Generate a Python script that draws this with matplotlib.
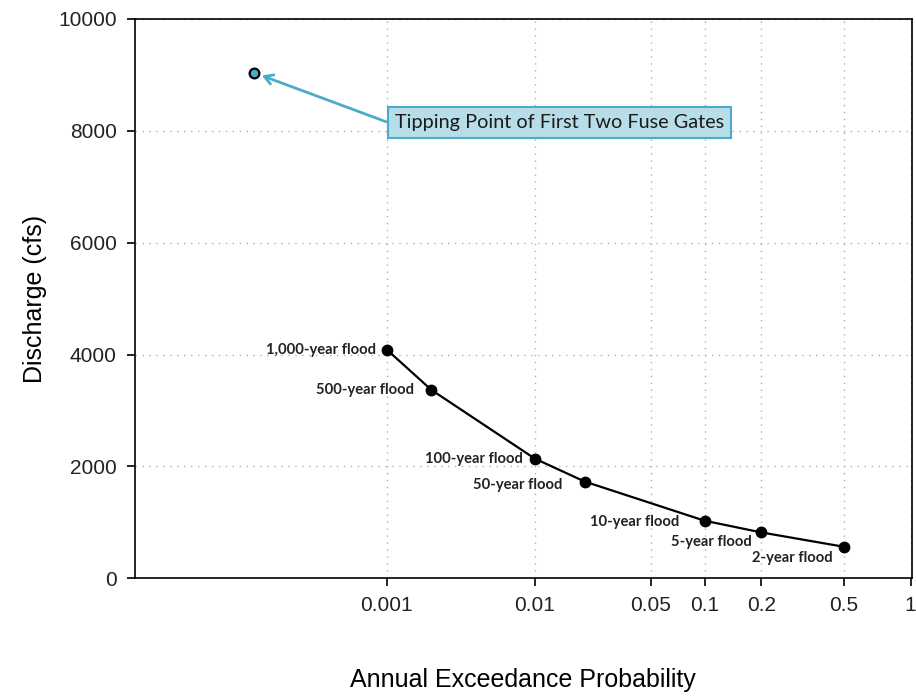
"""flood frequency curve with the fuse gate tipping point"""
import numpy as np
import matplotlib
matplotlib.use("Agg")
import matplotlib.pyplot as plt

# flood frequency data (annual exceedance probability vs discharge)
flood_labels = ["1,000-year flood", "500-year flood", "100-year flood", "50-year flood",
                "10-year flood", "5-year flood", "2-year flood"]
flood_prob = [0.001, 0.002, 0.01, 0.02, 0.1, 0.2, 0.5]
flood_q = [4090, 3370, 2140, 1730, 1030, 820, 565]

tip_prob = 0.000127
tip_q = 9040
tip_text = "Tipping Point of First Two Fuse Gates"

xtick_vals = [0.001, 0.01, 0.05, 0.1, 0.2, 0.5, 1]
xtick_labels = ["0.001", "0.01", "0.05", "0.1", "0.2", "0.5", "1"]
ytick_vals = [0, 2000, 4000, 6000, 8000, 10000]

# the probability axis is stretched unevenly, so map log10(p) onto axis units
scale_logs = [-6, -3, -2, np.log10(0.05), -1, np.log10(0.2), np.log10(0.5), 0, 0.3]
scale_pos = [-57.6, 386.7, 534.8, 650.6, 704.5, 761.4, 843.5, 910.5, 977.1]


def fwd(p):
    lp = np.log10(np.clip(p, 1e-12, None))
    return np.interp(lp, scale_logs, scale_pos)


def inv(u):
    return 10 ** np.interp(u, scale_pos, scale_logs)


# label offsets in pixels relative to each point
label_dx = [-11, -17, -12, -22, -25, -10, -11]
label_dy = [0, 0, 0, -3, -1, -10, -11]

plt.rcParams["font.family"] = ["Liberation Sans", "DejaVu Sans"]

fig = plt.figure(figsize=(9.16, 6.97), dpi=100)
ax = fig.add_axes([134.7 / 916, (697 - 578.3) / 697, (911.7 - 134.7) / 916, (578.3 - 19) / 697])

ax.set_xscale("function", functions=(fwd, inv))
ax.set_xlim(inv(134.7), inv(911.7))
ax.set_ylim(0, 10000)

ax.set_xticks(xtick_vals)
ax.set_xticklabels(xtick_labels)
ax.set_yticks(ytick_vals)
ax.minorticks_off()
ax.tick_params(axis="both", direction="out", length=6, width=1.2, labelsize=15, pad=7,
               labelcolor="#222222")

ax.grid(True, linestyle=(0, (1, 4)), color="#b0b0b0", linewidth=1)
for s in ax.spines.values():
    s.set_linewidth(1.2)

# curve
ax.plot(flood_prob, flood_q, color="black", linewidth=1.6, marker="o", markersize=7.5, zorder=3)

for lab, p, q, dx, dy in zip(flood_labels, flood_prob, flood_q, label_dx, label_dy):
    ax.annotate(lab, xy=(p, q), xytext=(dx, dy), textcoords="offset pixels",
                ha="right", va="center", fontsize=10.6, fontweight="bold",
                family=["Lato", "DejaVu Sans"], color="#222222")

# tipping point and its callout
ax.plot([tip_prob], [tip_q], marker="o", markersize=7, markerfacecolor="#4bacc6",
        markeredgecolor="black", markeredgewidth=1.6, linestyle="none", zorder=4)
ax.annotate(tip_text, xy=(tip_prob, tip_q), xytext=(141, -50), textcoords="offset pixels",
            ha="left", va="center", fontsize=14.3, family=["Lato", "DejaVu Sans"], color="#1a1a1a",
            bbox=dict(boxstyle="square,pad=0.36", facecolor="#b7dee8", edgecolor="#4bacc6", linewidth=1.5))
ax.annotate("", xy=(tip_prob, tip_q), xytext=(132, -49), textcoords="offset pixels",
            arrowprops=dict(arrowstyle="->,head_length=0.6,head_width=0.35", color="#4bacc6",
                            linewidth=2, shrinkA=0, shrinkB=6))

ax.set_ylabel("Discharge (cfs)", fontsize=18, labelpad=8)
ax.set_xlabel("Annual Exceedance Probability", fontsize=18)
ax.xaxis.set_label_coords(0.5, -0.16)

fig.savefig("out.png", dpi=100)
